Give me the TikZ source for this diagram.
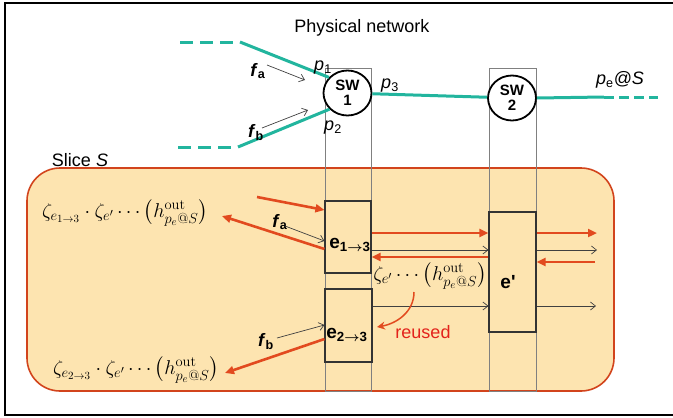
\RequirePackage{fix-cm}
\documentclass[tikz,border=0pt]{standalone}
\usepackage[no-math]{fontspec}
\setmainfont{Liberation Sans}
\usepackage{amsmath}
\DeclareMathSizes{20}{20}{14.5}{11}
\usetikzlibrary{arrows.meta,shapes.geometric}
\definecolor{tealc}{HTML}{22B59E}
\definecolor{redc}{HTML}{E24A1F}
\definecolor{slicefill}{HTML}{FDE4B0}
\definecolor{sliceline}{HTML}{D2441C}
\definecolor{reusedc}{HTML}{E3221B}
\begin{document}
\begin{tikzpicture}[x=1pt,y=-1pt,
  lbl/.style={font=\fontsize{18}{20}\selectfont, inner sep=0pt},
  teal line/.style={tealc, line width=3pt},
  teal dash/.style={tealc, line width=3pt, dash pattern=on 13pt off 7pt},
  sw/.style={ellipse, draw=black, line width=1.8pt, fill=white, minimum width=48pt, minimum height=45pt, inner sep=0pt, align=center, font=\fontsize{15}{16}\selectfont\bfseries},
  colbox/.style={draw=black!50, line width=0.8pt, inner sep=0pt},
  ebox/.style={draw=black!80, line width=1.1pt, inner sep=0pt},
  elabel/.style={font=\fontsize{19}{20}\selectfont\bfseries, inner sep=0pt},
  redarrow/.style={redc, line width=2.6pt, -{Triangle[length=9pt,width=8pt]}},
  thinarrow/.style={black!75, line width=0.7pt, -{Straight Barb[length=5pt,width=8pt]}},
  formula/.style={font=\fontsize{20}{24}\selectfont, inner sep=0pt},
]
\useasboundingbox (0,0) rectangle (673,418);
\draw[line width=1.6pt] (690,3) -- (5,3) -- (5,415) -- (690,415);

% slice
\draw[sliceline, fill=slicefill, line width=1.6pt, rounded corners=33pt] (27,168) rectangle (614,391);
\node[lbl] (slicelbl) at (80,160) {Slice \textit{S}};

% columns
\node[colbox, minimum width=46pt, minimum height=323pt] (col1) at (348,229.5) {};
\node[colbox, minimum width=47pt, minimum height=323pt] (col2) at (512.5,229.5) {};

% switches
\node[sw] (sw1) at (347.5,93) {SW\\[-1pt]1};
\node[sw] (sw2) at (512,98) {SW\\[-1pt]2};

% physical links
\coordinate (ta0) at (180,42);
\coordinate (ta1) at (240,42);
\coordinate (tb0) at (178,147);
\coordinate (tb1) at (238,147);
\coordinate (tc1) at (604,97);
\coordinate (tc2) at (658,97);
\draw[teal dash] (ta0) -- (ta1);
\draw[teal line] (ta1) -- (sw1.140);
\draw[teal dash] (tb0) -- (tb1);
\draw[teal line] (tb1) -- (sw1.222);
\draw[teal line] (sw1) -- (sw2);
\draw[teal line] (sw2.east) -- (tc1);
\draw[tealc, line width=3pt, dash pattern=on 10pt off 5pt] (tc1) -- (tc2);

\node[lbl] (title) at (362,28) {Physical network};
\node[lbl] (p1) at (323,68) {\textit{p}\textsubscript{1}};
\node[lbl] (p2) at (333,128) {\textit{p}\textsubscript{2}};
\node[lbl] (p3) at (390,86) {\textit{p}\textsubscript{3}};
\node[lbl] (pe) at (620,80) {\textit{p}\textsubscript{e}\textit{@S}};
\node[lbl] (fa1) at (258,71) {\textbf{\textit{f}}\textsubscript{\textbf{a}}};
\node[lbl] (fb1) at (256,133) {\textbf{\textit{f}}\textsubscript{\textbf{b}}};
\coordinate (fa1s) at (267,65);
\coordinate (fa1e) at (305,80);
\coordinate (fb1s) at (262,128);
\coordinate (fb1e) at (308,110);
\draw[thinarrow] (fa1s) -- (fa1e);
\draw[thinarrow] (fb1s) -- (fb1e);

% slice elements
\node[ebox, minimum width=46pt, minimum height=72pt] (e13) at (348,237) {};
\node[ebox, minimum width=47pt, minimum height=73pt] (e23) at (348.5,325.5) {};
\node[ebox, minimum width=47pt, minimum height=120pt] (ep) at (512.5,272) {};
\node[elabel] (l13) at (350,245) {e\textsubscript{1$\boldsymbol{\rightarrow}$3}};
\node[elabel] (l23) at (347,335) {e\textsubscript{2$\boldsymbol{\rightarrow}$3}};
\node[elabel] (lp) at (508,282) {e\textquotesingle};

\node[formula] (form1) at (125,213) {$\zeta_{e_{1\rightarrow3}}\cdot\zeta_{e'}\cdots\bigl(h^{\mathrm{out}}_{p_e@S}\bigr)$};
\node[formula] (form2) at (136,370) {$\zeta_{e_{2\rightarrow3}}\cdot\zeta_{e'}\cdots\bigl(h^{\mathrm{out}}_{p_e@S}\bigr)$};
\node[formula] (form3) at (430,276) {$\zeta_{e'}\cdots\bigl(h^{\mathrm{out}}_{p_e@S}\bigr)$};

\node[lbl] (fa2) at (280,222) {\textbf{\textit{f}}\textsubscript{\textbf{a}}};
\node[lbl] (fb2) at (266,342) {\textbf{\textit{f}}\textsubscript{\textbf{b}}};

\coordinate (ra1s) at (257,197);
\coordinate (ra2e) at (222,216);
\coordinate (fa2s) at (285,226);
\coordinate (fb2s) at (277,338);
\coordinate (rb2e) at (225,373);
\draw[redarrow] (ra1s) -- (e13.west |- 0,210);
\draw[redarrow] (e13.west |- 0,249) -- (ra2e);
\draw[thinarrow] (fa2s) -- (e13.west |- 0,241);
\draw[thinarrow] (fb2s) -- (e23.west |- 0,325);
\draw[redarrow] (e23.west |- 0,339) -- (rb2e);

\draw[redarrow] (e13.east |- 0,233) -- (ep.west |- 0,233);
\draw[thinarrow] (e13.east |- 0,250) -- (ep.west |- 0,250);
\draw[redarrow] (ep.west |- 0,257) -- (e13.east |- 0,257);
\draw[thinarrow] (e23.east |- 0,306) -- (ep.west |- 0,306);

\coordinate (rr1) at (597,233);
\coordinate (rt1) at (597,250);
\coordinate (rl1) at (595,262);
\coordinate (rt2) at (596,306);
\draw[redarrow] (ep.east |- 0,233) -- (rr1);
\draw[thinarrow] (ep.east |- 0,250) -- (rt1);
\draw[redarrow] (rl1) -- (ep.east |- 0,262);
\draw[thinarrow] (ep.east |- 0,306) -- (rt2);

% reused
\coordinate (rus) at (414,292);
\coordinate (rue) at (377,327);
\draw[redc, line width=1.5pt, -{Stealth[length=8pt,width=8pt]}] (rus) to[out=-90,in=10] (rue);
\node[lbl, text=reusedc] (reused) at (423,332) {reused};
\end{tikzpicture}
\end{document}
